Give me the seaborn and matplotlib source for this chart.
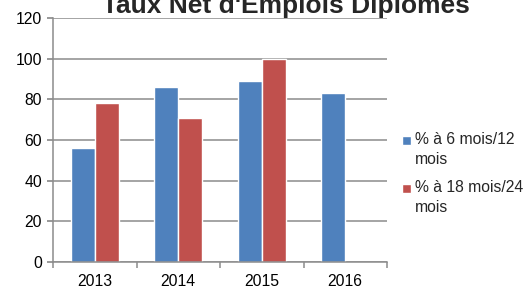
import matplotlib
matplotlib.use("Agg")
import matplotlib.pyplot as plt
import matplotlib.patches as mpatches
from matplotlib.legend_handler import HandlerPatch
import seaborn as sns
import pandas as pd
import numpy as np

years = ["2013", "2014", "2015", "2016"]
serie_6 = [56, 86, 89, 83]
serie_18 = [78, 71, 100, np.nan]
series_names = ["% à 6 mois/12\nmois", "% à 18 mois/24\nmois"]
colors = ["#4F81BD", "#C0504D"]
title = "Taux Net d'Emplois Diplômés"

df = pd.DataFrame({
    "year": years * 2,
    "value": serie_6 + serie_18,
    "serie": [series_names[0]] * 4 + [series_names[1]] * 4,
})

sns.set_theme(style="white")
plt.rcParams["font.family"] = ["Liberation Sans", "DejaVu Sans"]

fs = 11.3
fig = plt.figure(figsize=(5.26, 2.88), dpi=100)
ax = fig.add_axes([53/526, 1 - 262/288, (387-53)/526, (262-18)/288])

sns.barplot(data=df, x="year", y="value", hue="serie", palette=colors,
            width=0.575, saturation=1, ax=ax, legend=True, errorbar=None)

ax.set_ylim(0, 120)
ax.set_xlim(-0.5, 3.5)
ax.set_yticks(range(0, 121, 20))
ax.yaxis.grid(True, color="#8c8c8c", linewidth=1.1)
ax.set_axisbelow(True)
ax.set_xlabel("")
ax.set_ylabel("")
for s in ["top", "right"]:
    ax.spines[s].set_visible(False)
for s in ["left", "bottom"]:
    ax.spines[s].set_color("#8c8c8c")
    ax.spines[s].set_linewidth(1.1)
ax.tick_params(axis="y", which="major", left=True, length=4, color="#8c8c8c",
               labelsize=fs, pad=4, labelcolor="black")
ax.tick_params(axis="x", which="major", length=0, labelsize=fs, pad=9, labelcolor="black")
ax.set_xticks([-0.5, 0.5, 1.5, 2.5, 3.5], minor=True)
ax.tick_params(axis="x", which="minor", bottom=True, length=4, color="#8c8c8c", width=1.1)


def top_square(legend, orig_handle, xdescent, ydescent, width, height, fontsize):
    s = 0.6 * fontsize
    return mpatches.Rectangle((-xdescent, 0.97 * fontsize - s / 2), s, s)


h, l = ax.get_legend_handles_labels()
ax.legend_.remove()
leg = fig.legend(h, l, loc="upper left", bbox_to_anchor=(402/526, 1 - 132/288),
                 frameon=False, fontsize=fs, handlelength=0.6, handleheight=0.6,
                 handletextpad=0.25, labelspacing=0.8, borderaxespad=0, borderpad=0,
                 handler_map={mpatches.Rectangle: HandlerPatch(patch_func=top_square)})
for t in leg.get_texts():
    t.set_linespacing(1.45)

fig.text(286/526, 1 - 13/288, title, ha="center", va="baseline",
         fontsize=19, fontweight="bold")

fig.savefig("out.png", dpi=100)
